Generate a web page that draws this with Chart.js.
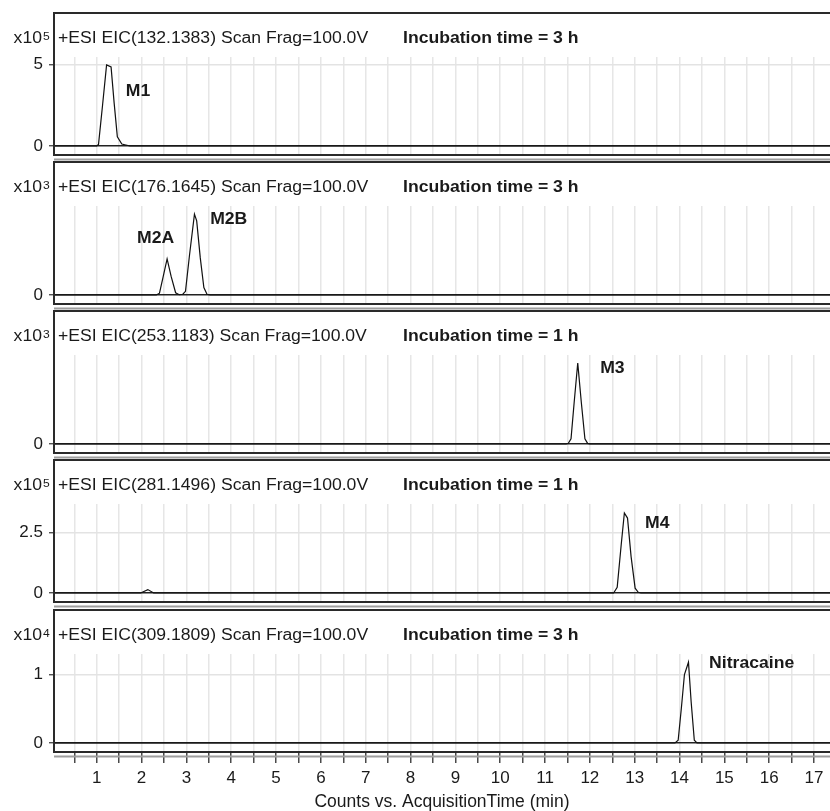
<!DOCTYPE html>
<html>
<head>
<meta charset="utf-8">
<script src="https://cdn.jsdelivr.net/npm/chart.js@4.4.0/dist/chart.umd.min.js"></script>
<style>
html, body { margin: 0; padding: 0; background: #fff; }
#wrap { position: relative; width: 830px; height: 811px; overflow: hidden; }
#wrap canvas { position: absolute; left: 0; }
</style>
</head>
<body>
<div id="wrap"></div>
<script>
// Retention times (min) and counts for each extracted ion chromatogram
const m1Time = [0, 1.00, 1.04, 1.13, 1.22, 1.32, 1.39, 1.46, 1.56, 1.65, 1.74, 17.5];
const m1Counts = [0, 0, 0.1, 2.5, 4.97, 4.85, 2.6, 0.57, 0.12, 0.06, 0, 0];

const m2Time = [0, 2.33, 2.40, 2.48, 2.57, 2.66, 2.76, 2.84, 2.92, 2.98, 3.07, 3.18, 3.23, 3.31, 3.39, 3.46, 3.53, 17.5];
const m2Counts = [0, 0, 0.12, 1.2, 2.43, 1.25, 0.15, 0.02, 0.05, 0.25, 2.7, 5.45, 5.0, 2.5, 0.5, 0.05, 0, 0];

const m3Time = [0, 11.47, 11.52, 11.58, 11.65, 11.73, 11.81, 11.89, 11.95, 12.0, 17.5];
const m3Counts = [0, 0, 0.05, 0.35, 2.8, 5.46, 2.8, 0.35, 0.04, 0, 0];

const m4Time = [0, 1.98, 2.14, 2.27, 12.53, 12.61, 12.70, 12.77, 12.84, 12.92, 13.01, 13.08, 13.14, 17.5];
const m4Counts = [0, 0, 0.14, 0, 0, 0.23, 2.0, 3.3, 3.09, 1.5, 0.2, 0.03, 0, 0];

const nitTime = [0, 13.90, 13.97, 14.04, 14.11, 14.20, 14.26, 14.33, 14.39, 17.5];
const nitCounts = [0, 0, 0.04, 0.5, 1.0, 1.18, 0.6, 0.04, 0, 0];

const ionLabels = [
  '+ESI EIC(132.1383) Scan Frag=100.0V',
  '+ESI EIC(176.1645) Scan Frag=100.0V',
  '+ESI EIC(253.1183) Scan Frag=100.0V',
  '+ESI EIC(281.1496) Scan Frag=100.0V',
  '+ESI EIC(309.1809) Scan Frag=100.0V'
];
const incubationLabels = [
  'Incubation time = 3 h',
  'Incubation time = 3 h',
  'Incubation time = 1 h',
  'Incubation time = 1 h',
  'Incubation time = 3 h'
];
const exponents = ['5', '3', '3', '5', '4'];
const yTickValues = [[0, 5], [0], [0], [0, 2.5], [0, 1]];
const yMaxValues = [5.46, 6, 6, 3.67, 1.30];

const peakNames = [['M1'], ['M2A', 'M2B'], ['M3'], ['M4'], ['Nitracaine']];
const peakLabelTime = [[1.65], [1.90, 3.53], [12.23], [13.23], [14.66]];
const peakLabelCounts = [[3.31], [3.82, 5.06], [5.1], [2.85], [1.16]];

const timeTicks = [0.5, 1, 1.5, 2, 2.5, 3, 3.5, 4, 4.5, 5, 5.5, 6, 6.5, 7, 7.5, 8, 8.5,
  9, 9.5, 10, 10.5, 11, 11.5, 12, 12.5, 13, 13.5, 14, 14.5, 15, 15.5, 16, 16.5, 17];
const xTitle = 'Counts vs. AcquisitionTime (min)';

const traces = [
  [m1Time, m1Counts], [m2Time, m2Counts], [m3Time, m3Counts], [m4Time, m4Counts], [nitTime, nitCounts]
];

// layout
const panelTop = [12, 161, 310, 459, 609];
const PANEL_H = 143;
const GRID_H = 98;
const FONT = "'Liberation Sans', Arial, Helvetica, sans-serif";
const STRETCH = 1.1;

Chart.defaults.font.family = FONT;
Chart.defaults.color = '#1a1a1a';

function drawText(ctx, text, x, y, font, align, baseline) {
  ctx.save();
  ctx.font = font;
  ctx.fillStyle = '#1a1a1a';
  ctx.textAlign = align;
  ctx.textBaseline = baseline || 'alphabetic';
  ctx.translate(x, y);
  ctx.scale(STRETCH, 1);
  ctx.fillText(text, 0, 0);
  ctx.restore();
}

function makePanel(i) {
  const isLast = i === traces.length - 1;
  const canvasTop = panelTop[i] - 4;
  const canvasH = isLast ? 811 - canvasTop : PANEL_H + 10;
  const padTop = 4 + PANEL_H - GRID_H;

  const canvas = document.createElement('canvas');
  canvas.width = 830;
  canvas.height = canvasH;
  canvas.style.top = canvasTop + 'px';
  document.getElementById('wrap').appendChild(canvas);

  const [times, counts] = traces[i];
  const points = times.map((t, k) => ({ x: t, y: counts[k] }));
  const yMax = yMaxValues[i];

  const panelDecor = {
    id: 'panelDecor' + i,
    afterDraw(chart) {
      const ctx = chart.ctx;
      const area = chart.chartArea;
      const top = area.bottom - PANEL_H;
      ctx.save();
      // grey axis rule under the box
      ctx.strokeStyle = '#9e9e9e';
      ctx.lineWidth = 2;
      ctx.beginPath();
      ctx.moveTo(area.left, area.bottom + 4.5);
      ctx.lineTo(area.right + 4, area.bottom + 4.5);
      ctx.stroke();
      // panel box
      ctx.strokeStyle = '#2a2a2a';
      ctx.lineWidth = 2;
      ctx.beginPath();
      ctx.moveTo(area.right + 4, top + 1);
      ctx.lineTo(area.left, top + 1);
      ctx.lineTo(area.left, area.bottom);
      ctx.lineTo(area.right + 4, area.bottom);
      ctx.stroke();
      ctx.restore();

      drawText(ctx, ionLabels[i], area.left + 4, top + 31, '16px ' + FONT, 'left');
      drawText(ctx, incubationLabels[i], 403, top + 31, 'bold 16px ' + FONT, 'left');
      drawText(ctx, 'x10', 42, top + 31, '16px ' + FONT, 'right');
      drawText(ctx, exponents[i], 43, top + 28, '11px ' + FONT, 'left');

      const xs = chart.scales.x, ys = chart.scales.y;
      peakNames[i].forEach((name, k) => {
        drawText(ctx, name, xs.getPixelForValue(peakLabelTime[i][k]),
          ys.getPixelForValue(peakLabelCounts[i][k]), 'bold 16px ' + FONT, 'left', 'middle');
      });
    }
  };

  new Chart(canvas, {
    type: 'line',
    data: {
      datasets: [{
        data: points,
        borderColor: '#111',
        borderWidth: 1.2,
        pointRadius: 0,
        tension: 0,
        fill: false
      }]
    },
    options: {
      responsive: false,
      animation: false,
      devicePixelRatio: 1,
      layout: { padding: { top: padTop, left: 0, right: 0, bottom: 0 } },
      plugins: { legend: { display: false }, tooltip: { enabled: false } },
      scales: {
        x: {
          type: 'linear',
          min: 0.047,
          max: 17.357,
          afterBuildTicks: (scale) => { scale.ticks = timeTicks.map(v => ({ value: v })); },
          afterFit: (scale) => {
            scale.height = canvasH - padTop - GRID_H;
            scale.paddingLeft = 0;
            scale.paddingRight = 0;
          },
          border: { display: false },
          grid: {
            color: '#e6e6e6',
            lineWidth: 1.5,
            drawTicks: isLast,
            tickLength: 11,
            tickColor: '#4a4a4a',
            tickWidth: 1.5
          },
          ticks: {
            display: isLast,
            autoSkip: false,
            maxRotation: 0,
            padding: 5,
            font: { size: 17 },
            color: '#1a1a1a',
            callback: (v) => Number.isInteger(v) ? String(v) : ''
          },
          title: {
            display: isLast,
            text: xTitle,
            font: { size: 17.5, lineHeight: 1 },
            color: '#1a1a1a',
            padding: { top: 0, bottom: 0 }
          }
        },
        y: {
          min: -yMax * 9 / 89,
          max: yMax,
          afterBuildTicks: (scale) => { scale.ticks = yTickValues[i].map(v => ({ value: v })); },
          afterFit: (scale) => {
            scale.width = 54;
            scale.paddingTop = 0;
            scale.paddingBottom = 0;
          },
          border: { display: false },
          grid: {
            color: (c) => (c.tick && c.tick.value === 0) ? '#222' : '#e3e3e3',
            lineWidth: 1.5,
            drawTicks: true,
            tickLength: 5,
            tickColor: '#333',
            tickWidth: 1.2
          },
          ticks: {
            padding: 6,
            font: { size: 17 },
            color: '#1a1a1a',
            callback: (v) => String(v)
          }
        }
      }
    },
    plugins: [panelDecor]
  });
}

traces.forEach((_, i) => makePanel(i));
</script>
</body>
</html>
